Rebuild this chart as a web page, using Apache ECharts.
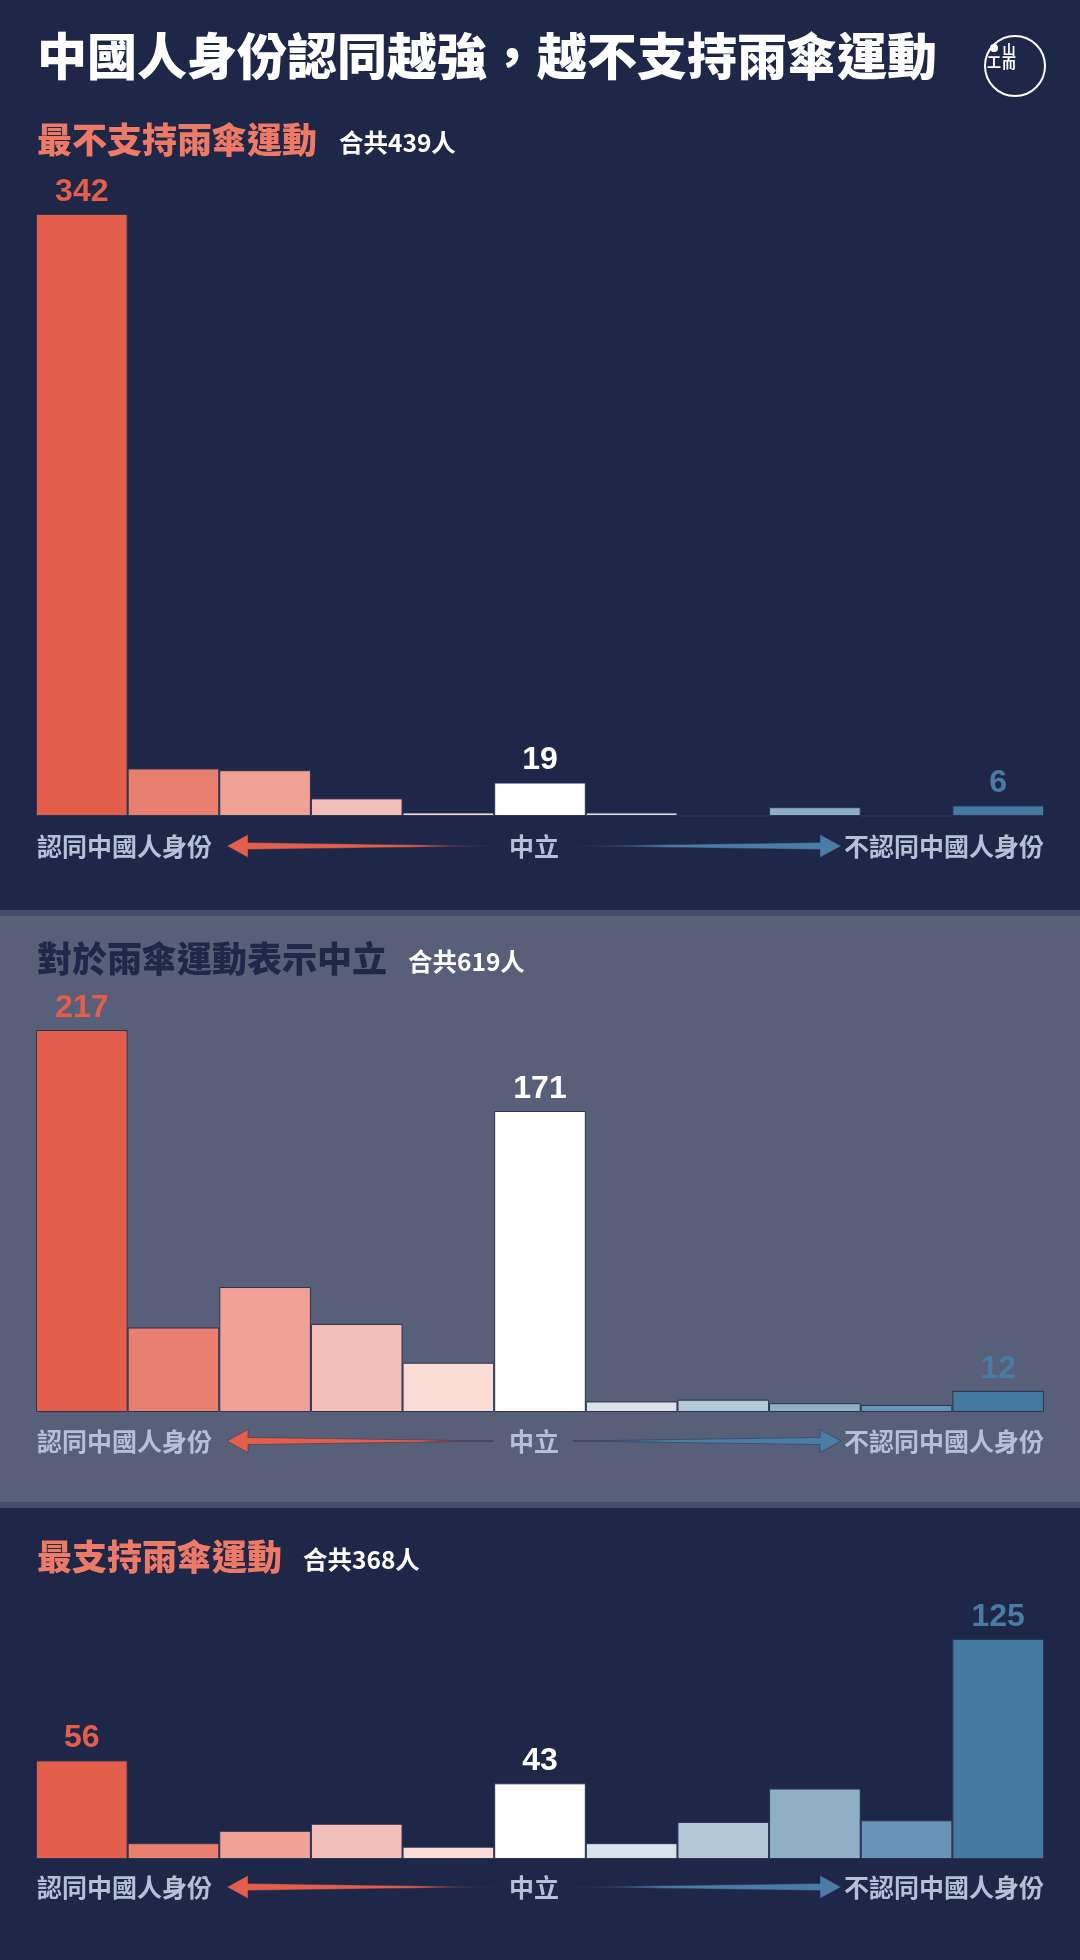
<!DOCTYPE html>
<html>
<head>
<meta charset="utf-8">
<script src="https://cdn.jsdelivr.net/npm/echarts@6/dist/echarts.min.js"></script>
<style>
html,body{margin:0;padding:0;background:#1f2749;}
#chart{width:1080px;height:1960px;}
</style>
</head>
<body>
<div id="chart"></div>
<script>
// ---- data ----
const categories = ['1','2','3','4','5','6','7','8','9','10','11'];
const leastSupport = [342, 27, 26, 10, 2, 19, 2, 0, 5, 0, 6];
const neutral = [217, 48, 71, 50, 28, 171, 6, 7, 5, 4, 12];
const mostSupport = [56, 9, 16, 20, 7, 43, 9, 21, 40, 22, 125];
const sectionTitles = ['最不支持雨傘運動', '對於雨傘運動表示中立', '最支持雨傘運動'];
const sectionTotals = [439, 619, 368];
const labelledIndex = [0, 5, 10];
const scaleLabels = ['認同中國人身份', '中立', '不認同中國人身份'];
const mainTitle = '中國人身份認同越強，越不支持雨傘運動';

// ---- styles ----
const barColors = ['#e45f4b','#e97f6f','#eea194','#f4bfb8','#fadcd7','#ffffff','#d8e3ea','#b4cad8','#8fb0c4','#6895b5','#4479a1'];
const labelColors = {0:'#e45f4b', 5:'#ffffff', 10:'#4a7ba5'};
const DARK = '#1f2749', PANEL = '#575f79', STRIP = '#444d6b';
const CJK = '"Noto Sans CJK TC","Noto Sans CJK SC",sans-serif';
const NUM = '"Liberation Sans",Arial,sans-serif';

const chart = echarts.init(document.getElementById('chart'), null, {renderer:'canvas'});

const baselines = [816, 1412, 1859];
const gridH = 602;
const headingY = [140, 959, 1557];
const totalX = [339, 408, 303];
const headingColors = ['#ec7a66', '#20284a', '#ec7a66'];
const arrowY = [846, 1441, 1887];
const seriesData = [leastSupport, neutral, mostSupport];

function makeData(arr){
  return arr.map((v,i)=>({
    value: v,
    itemStyle: {color: barColors[i]},
    label: {show: labelledIndex.indexOf(i) >= 0, color: labelColors[i] || '#fff'}
  }));
}

const grids = [], xAxes = [], yAxes = [], series = [];
for (let k=0;k<3;k++){
  grids.push({left:36, right:36, top: baselines[k]-gridH, height: gridH});
  xAxes.push({type:'category', data: categories, gridIndex:k, show:false, boundaryGap:true});
  yAxes.push({type:'value', gridIndex:k, min:0, max:342, show:false});
  series.push({
    type:'bar', xAxisIndex:k, yAxisIndex:k,
    data: makeData(seriesData[k]),
    barCategoryGap: 0,
    barGap: 0,
    itemStyle: {borderColor:'#2c3352', borderWidth:1},
    label: {position:'top', distance:6, fontFamily: NUM, fontWeight:'bold', fontSize:32},
    emphasis: {disabled:true},
    animation:false
  });
}

const g = [];
// backgrounds
g.push({type:'rect', shape:{x:0,y:910,width:1080,height:6}, style:{fill:STRIP}, z:-10});
g.push({type:'rect', shape:{x:0,y:916,width:1080,height:586}, style:{fill:PANEL}, z:-10});
g.push({type:'rect', shape:{x:0,y:1502,width:1080,height:6}, style:{fill:STRIP}, z:-10});

// main title
g.push({type:'text', x:37, y:56, style:{text: mainTitle, fill:'#ffffff', fontFamily:CJK, fontWeight:900, fontSize:50, textVerticalAlign:'middle'}});
// logo
g.push({type:'circle', shape:{cx:1015, cy:66, r:30}, style:{fill:'none', stroke:'#ffffff', lineWidth:2}});
g.push({type:'circle', shape:{cx:994, cy:48, r:4}, style:{fill:'#ffffff'}});
g.push({type:'text', x:1009, y:49, style:{text:'山', fill:'#fff', fontFamily:CJK, fontWeight:'bold', fontSize:13, textAlign:'center', textVerticalAlign:'middle'}});
g.push({type:'text', x:994, y:62, style:{text:'工', fill:'#fff', fontFamily:CJK, fontWeight:'bold', fontSize:14, textAlign:'center', textVerticalAlign:'middle'}});
g.push({type:'text', x:1009, y:63, style:{text:'而', fill:'#fff', fontFamily:CJK, fontWeight:'bold', fontSize:14, textAlign:'center', textVerticalAlign:'middle'}});

for (let k=0;k<3;k++){
  g.push({type:'text', x:37, y:headingY[k], style:{text: sectionTitles[k], fill: headingColors[k], fontFamily:CJK, fontWeight:900, fontSize:35, textVerticalAlign:'middle'}});
  g.push({type:'text', x: totalX[k], y:headingY[k]+3, style:{text: '合共' + sectionTotals[k] + '人', fill:'#ffffff', fontFamily:CJK, fontWeight:'bold', fontSize:24.5, textVerticalAlign:'middle'}});
  const y = arrowY[k];
  const lc = '#b3c1d6';
  g.push({type:'text', x:37, y:y, style:{text: scaleLabels[0], fill: lc, fontFamily:CJK, fontWeight:'bold', fontSize:25, textVerticalAlign:'middle'}});
  g.push({type:'text', x:534, y:y, style:{text: scaleLabels[1], fill: lc, fontFamily:CJK, fontWeight:'bold', fontSize:25, textAlign:'center', textVerticalAlign:'middle'}});
  g.push({type:'text', x:1044, y:y, style:{text: scaleLabels[2], fill: lc, fontFamily:CJK, fontWeight:'bold', fontSize:25, textAlign:'right', textVerticalAlign:'middle'}});
  // left arrow
  g.push({type:'polygon', shape:{points:[[227,y],[248,y-11.5],[248,y-3.5],[494,y],[248,y+3.5],[248,y+11.5]]},
    style:{fill: new echarts.graphic.LinearGradient(0,0,1,0,[
      {offset:0,color:'#e45f4b'},{offset:0.72,color:'#e45f4b'},{offset:0.88,color:'rgba(170,70,70,0.7)'},{offset:1,color:'rgba(31,39,73,0.2)'}]),
      stroke:'rgba(40,46,78,0.6)', lineWidth:0.8}});
  // right arrow
  g.push({type:'polygon', shape:{points:[[573,y],[820,y-3.5],[820,y-11.5],[841,y],[820,y+11.5],[820,y+3.5]]},
    style:{fill: new echarts.graphic.LinearGradient(0,0,1,0,[
      {offset:0,color:'rgba(31,39,73,0.2)'},{offset:0.15,color:'rgba(60,100,140,0.7)'},{offset:0.35,color:'#4a7da6'},{offset:1,color:'#4a7da6'}]),
      stroke:'rgba(40,46,78,0.6)', lineWidth:0.8}});
}

chart.setOption({
  backgroundColor: DARK,
  animation:false,
  grid: grids,
  xAxis: xAxes,
  yAxis: yAxes,
  series: series,
  graphic: {elements: g}
});
</script>
</body>
</html>
